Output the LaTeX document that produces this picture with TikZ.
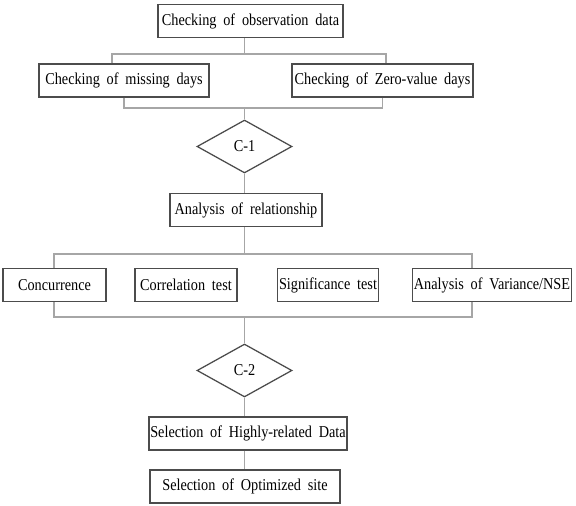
\documentclass[tikz,border=0pt]{standalone}
\usepackage{fontspec}
\setmainfont{Liberation Serif}[FakeStretch=0.86,WordSpace=1.9]
\usepackage{tikz}
\usetikzlibrary{shapes.geometric}
\tikzset{every picture/.style={line width=0.75pt}}
\tikzset{
  chkbox/.style={rectangle, draw=black!70, line width=0.9pt, minimum height=0.83cm, inner sep=1pt, font=\fontsize{11.8}{13}\selectfont},
  chkdec/.style={diamond, draw=black!70, line width=0.9pt, minimum width=2.375cm, minimum height=1.325cm, inner sep=0pt, font=\fontsize{11.8}{13}\selectfont},
  chkline/.style={draw=black!35, line width=0.9pt}
}

\begin{document}
\begin{tikzpicture}
      \useasboundingbox (0,0) rectangle (14.4,-12.65);
      \node[chkbox, minimum width=4.625cm] (obs)  at (6.2625,-0.525) {Checking of observation data};
      \node[chkbox, minimum width=4.25cm]  (miss) at (3.10,-2.0125)  {Checking of missing days};
      \node[chkbox, minimum width=4.525cm] (zero) at (9.5625,-2.0125) {Checking of Zero-value days};
      \node[chkdec] (c1) at (6.1125,-3.6625) {C-1};
      \node[chkbox, minimum width=3.8cm]   (rel)  at (6.15,-5.25)    {Analysis of relationship};
      \node[chkbox, minimum width=2.575cm] (conc) at (1.3625,-7.125) {Concurrence};
      \node[chkbox, minimum width=2.55cm]  (corr) at (4.65,-7.125)   {Correlation test};
      \node[chkbox, minimum width=2.5cm]   (sig)  at (8.2,-7.125)    {Significance test};
      \node[chkbox, minimum width=3.85cm]  (anova) at (12.3,-7.125)  {Analysis of Variance/NSE};
      \node[chkdec] (c2) at (6.1125,-9.2625) {C-2};
      \node[chkbox, minimum width=4.95cm]  (hrd)  at (6.2,-10.8375)  {Selection of Highly-related Data};
      \node[chkbox, minimum width=4.75cm]  (opt)  at (6.125,-12.1625) {Selection of Optimized site};
      % split / merge points
      \coordinate (s1l) at (2.80,-1.35);
      \coordinate (s1r) at (9.65,-1.35);
      \coordinate (m1)  at (6.1125,-2.70);
      \coordinate (s2l) at (1.35,-6.35);
      \coordinate (s2r) at (11.80,-6.35);
      \coordinate (m2)  at (6.1125,-7.925);
      \draw[chkline] (obs.south -| c1) -- (c1 |- s1l);
      \draw[chkline] (miss.north -| s1l) -- (s1l) -- (s1r) -- (zero.north -| s1r);
      \draw[chkline] (miss.south) -- (miss |- m1) -- (zero |- m1) -- (zero.south);
      \draw[chkline] (m1) -- (c1.north);
      \draw[chkline] (c1.south) -- (rel.north -| c1);
      \draw[chkline] (rel.south -| c1) -- (c1 |- s2l);
      \draw[chkline] (conc.north -| s2l) -- (s2l) -- (s2r) -- (anova.north -| s2r);
      \draw[chkline] (conc.south -| s2l) -- (s2l |- m2) -- (s2r |- m2) -- (anova.south -| s2r);
      \draw[chkline] (m2) -- (c2.north);
      \draw[chkline] (c2.south) -- (hrd.north -| c2);
      \draw[chkline] (hrd.south -| c2) -- (opt.north -| c2);
\end{tikzpicture}
\end{document}
